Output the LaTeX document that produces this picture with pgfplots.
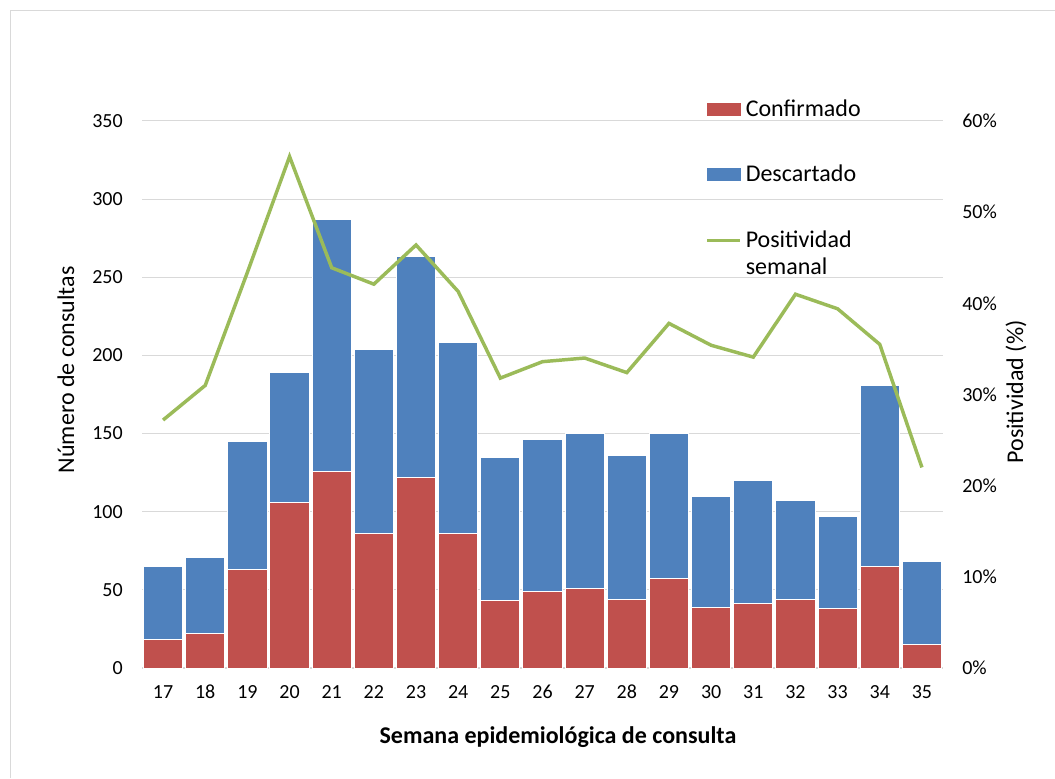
\documentclass[border=0pt]{standalone}
\usepackage{pgfplots}
\pgfplotsset{compat=1.18}
\usepackage{fontspec}
\setmainfont{Carlito}
\definecolor{cred}{HTML}{C0504D}
\definecolor{cblue}{HTML}{4F81BD}
\definecolor{cgreen}{HTML}{9BBB59}
\definecolor{cgrid}{HTML}{D9D9D9}
\newcommand{\bigfont}{\fontsize{18}{20.8}\selectfont}
\begin{document}
\begin{tikzpicture}[font=\fontsize{15}{18}\selectfont]
\useasboundingbox (0,0) rectangle (791.25pt,583.5pt);
\draw[cgrid, line width=0.75pt] (7.5pt,0pt) -- (7.5pt,575.25pt) -- (791.25pt,575.25pt);
\begin{axis}[
  at={(106.5pt,82.5pt)}, anchor=south west,
  scale only axis, width=600.75pt, height=410.25pt,
  xmin=16.5, xmax=35.5, ymin=0, ymax=350,
  ybar stacked, bar width=0.93, bar shift=0pt,
  xtick={17,...,35}, ytick={0,50,...,350},
  ymajorgrids, grid style={cgrid, line width=0.75pt},
  axis y line*=left, axis x line*=bottom,
  y axis line style={draw=none}, x axis line style={cgrid, line width=1pt, shorten >=0pt},
  major tick length=0pt,
  /pgf/number format/assume math mode=true,
  xticklabel style={yshift=-12.75pt, anchor=north, inner sep=0pt},
  yticklabel style={xshift=-14.25pt, anchor=east, inner sep=0pt},
  ylabel={Número de consultas},
  ylabel style={at={(axis description cs:-0.0949,0.545)}, anchor=center, rotate=0, font=\bigfont},
  xlabel={\bfseries Semana epidemiológica de consulta},
  xlabel style={at={(axis description cs:0.5193,-0.126)}, anchor=center, font=\bigfont},
]
\addplot[fill=cred, draw=white, line width=0.75pt] coordinates {
(17,18) (18,22) (19,63) (20,106) (21,126) (22,86) (23,122) (24,86) (25,43) (26,49)
(27,51) (28,44) (29,57) (30,39) (31,41) (32,44) (33,38) (34,65) (35,15)};
\addplot[fill=cblue, draw=white, line width=0.75pt] coordinates {
(17,47) (18,49) (19,82) (20,83) (21,161) (22,118) (23,141) (24,122) (25,92) (26,97)
(27,99) (28,92) (29,93) (30,71) (31,79) (32,63) (33,59) (34,116) (35,53)};
\end{axis}
\begin{axis}[
  at={(106.5pt,82.5pt)}, anchor=south west,
  scale only axis, width=600.75pt, height=410.25pt,
  xmin=16.5, xmax=35.5, ymin=0, ymax=60,
  axis x line=none, axis y line*=right,
  y axis line style={draw=none},
  major tick length=0pt,
  ytick={0,10,...,60},
  yticklabels={0\%,10\%,20\%,30\%,40\%,50\%,60\%},
  yticklabel style={xshift=14.25pt, anchor=west, inner sep=0pt},
  ylabel={Positividad (\%)},
  ylabel style={at={(axis description cs:1.0911,0.5046)}, anchor=center, rotate=0, font=\bigfont},
  legend style={at={(axis description cs:0.7029,1.0399)}, anchor=north west,
    draw=none, fill=none, inner sep=0pt, row sep=32.9pt, column sep=3pt, font=\bigfont,
    nodes={inner sep=0pt, text height=12.6pt, text depth=3.6pt, anchor=base west}},
  legend cell align=left,
]
\addlegendimage{legend image code/.code={\fill[cred] (0pt,0.75pt) rectangle (24.75pt,9.75pt);}}
\addlegendentry{Confirmado}
\addlegendimage{legend image code/.code={\fill[cblue] (0pt,0.75pt) rectangle (24.75pt,9.75pt);}}
\addlegendentry{Descartado}
\addlegendimage{legend image code/.code={\draw[cgreen, line width=2.6pt] (0pt,5pt) -- (24.75pt,5pt);}}
\addlegendentry{\begin{tabular}[t]{@{}l@{}}Positividad\\semanal\end{tabular}}
\addplot[cgreen, line width=2.6pt, forget plot] coordinates {
(17,27.2) (18,31.0) (19,43.4) (20,56.1) (21,43.9) (22,42.1) (23,46.4) (24,41.3) (25,31.8) (26,33.6)
(27,34.0) (28,32.4) (29,37.8) (30,35.4) (31,34.1) (32,41.0) (33,39.4) (34,35.5) (35,22.0)};
\end{axis}
\end{tikzpicture}
\end{document}
